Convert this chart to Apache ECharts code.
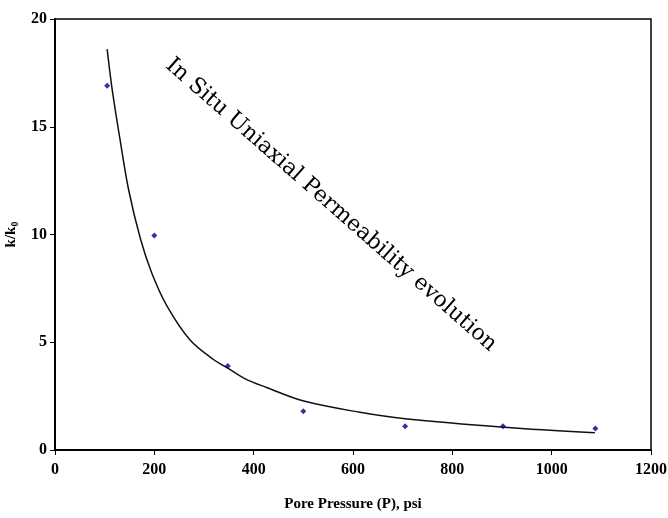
<!DOCTYPE html>
<html>
<head>
<meta charset="utf-8">
<script src="https://cdn.jsdelivr.net/npm/echarts@6/dist/echarts.min.js"></script>
<style>html,body{margin:0;padding:0;background:#fff;}#c{width:668px;height:518px;}</style>
</head>
<body>
<div id="c"></div>
<script>
// Measured data points
var pressure = [105, 200, 348, 500, 705, 902, 1088];
var permRatio = [16.9, 9.95, 3.9, 1.8, 1.1, 1.1, 1.0];
// Trend curve
var curveX = [105, 115, 131, 148, 172, 195, 225, 272, 319, 348, 383, 426, 501, 614, 705, 903, 1087];
var curveY = [18.6, 16.75, 14.4, 12.1, 9.8, 8.2, 6.7, 5.1, 4.2, 3.8, 3.3, 2.9, 2.27, 1.75, 1.45, 1.06, 0.8];
var xTicks = [0, 200, 400, 600, 800, 1000, 1200];
var yTicks = [0, 5, 10, 15, 20];
var annotation = 'In Situ Uniaxial Permeability evolution';

var chart = echarts.init(document.getElementById('c'));
var pts = pressure.map(function (x, i) { return [x, permRatio[i]]; });
var curve = curveX.map(function (x, i) { return [x, curveY[i]]; });
var serif = '"Liberation Serif", "Times New Roman", serif';
chart.setOption({
  backgroundColor: '#fff',
  animation: false,
  grid: { left: 55, right: 17, top: 19, bottom: 68, show: true, borderColor: '#000', borderWidth: 1.5, containLabel: false, outerBoundsMode: 'none' },
  xAxis: {
    type: 'value', min: xTicks[0], max: xTicks[xTicks.length - 1], interval: 200,
    axisLine: { show: true, lineStyle: { color: '#000', width: 2 } },
    axisTick: { show: true, inside: false, length: 5, lineStyle: { color: '#000', width: 1 } },
    splitLine: { show: false },
    axisLabel: { color: '#000', fontFamily: serif, fontWeight: 'bold', fontSize: 16, margin: 12, formatter: function (v) { return String(v); } },
    name: 'Pore Pressure (P), psi', nameLocation: 'middle', nameGap: 47,
    nameTextStyle: { color: '#000', fontFamily: serif, fontWeight: 'bold', fontSize: 15 }
  },
  yAxis: {
    type: 'value', min: yTicks[0], max: yTicks[yTicks.length - 1], interval: 5,
    axisLine: { show: true, lineStyle: { color: '#000', width: 2 } },
    axisTick: { show: true, inside: false, length: 5, lineStyle: { color: '#000', width: 1 } },
    splitLine: { show: false },
    axisLabel: { color: '#000', fontFamily: serif, fontWeight: 'bold', fontSize: 16, margin: 8, formatter: function (v) { return String(v); } },
    name: '{a|k/k}{b|0}', nameLocation: 'middle', nameGap: 33, nameRotate: 90,
    nameTextStyle: {
      rich: {
        a: { color: '#000', fontFamily: serif, fontWeight: 'bold', fontSize: 15 },
        b: { color: '#000', fontFamily: serif, fontWeight: 'bold', fontSize: 10, padding: [8, 0, 0, 0] }
      }
    }
  },
  graphic: [{
    type: 'text', x: 331, y: 205, rotation: -0.72,
    style: { text: annotation, fontFamily: '"DejaVu Serif", serif', fontSize: 22, fill: '#000', align: 'center', verticalAlign: 'middle' },
    z: 10
  }],
  series: [
    { type: 'line', data: curve, smooth: 0.35, showSymbol: false, lineStyle: { color: '#111', width: 1.5 }, z: 3 },
    { type: 'scatter', data: pts, symbol: 'diamond', symbolSize: 6, itemStyle: { color: '#00008b' }, z: 4 }
  ]
});
</script>
</body>
</html>
